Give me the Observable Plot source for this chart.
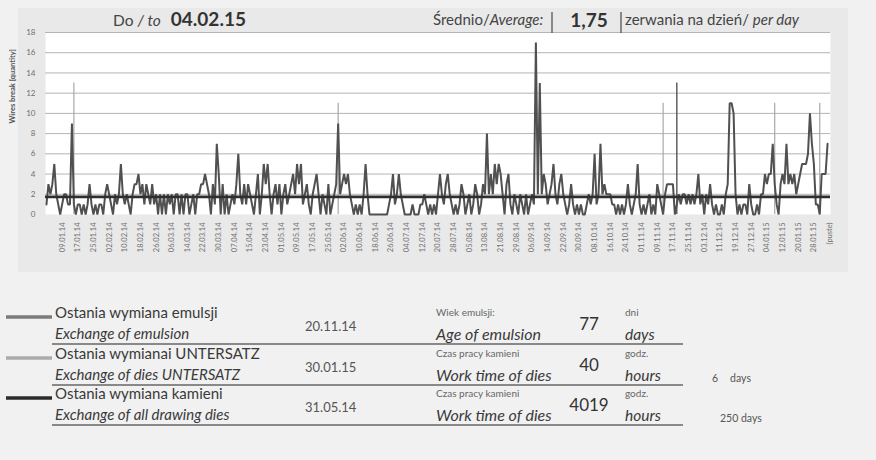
<!DOCTYPE html>
<html><head><meta charset="utf-8">
<script src="https://cdn.jsdelivr.net/npm/d3@7"></script>
<script src="https://cdn.jsdelivr.net/npm/@observablehq/plot@0.6"></script>
<style>
body{margin:0;background:#f1f1f1;font-family:Lato,"Open Sans",sans-serif;}
#wrap{position:relative;width:876px;height:460px;overflow:hidden;background:#f1f1f1}
#panel{position:absolute;left:18px;top:8px;width:830px;height:264px;background:#e9e9e9}
#chart{position:absolute;left:0;top:0}
#over{position:absolute;left:0;top:0}
</style></head><body>
<div id="wrap"><div id="panel"></div><div id="chart"></div><svg id="over" width="876" height="460"></svg></div>
<script>
// daily wire breaks, 01.01.14 .. 04.02.15 (category index 0..399), index 400 = "(puste)"
const breaks = [
1,3,2,3,5,2,1,0,1,2,2,1,1,9,1,0,1,1,0,1,
0,1,3,1,0,1,0,1,1,0,2,3,2,1,0,2,1,2,5,2,
1,2,1,0,2,3,3,4,2,3,1,3,2,1,3,1,2,0,2,0,
2,0,2,1,2,0,2,2,0,2,0,2,2,0,1,2,0,2,2,3,
3,4,3,2,0,3,1,7,4,0,3,0,2,0,1,2,1,3,6,2,
1,3,1,3,2,1,0,2,4,0,2,5,3,5,2,0,2,3,1,3,
0,2,3,1,2,3,4,2,5,3,5,1,2,3,1,0,2,3,4,2,
0,2,1,0,3,0,1,2,3,9,2,3,4,3,4,2,1,0,1,0,
1,0,2,5,2,0,0,0,0,0,0,0,0,0,0,1,2,4,1,2,
4,2,1,0,0,0,0,1,0,0,0,1,1,2,1,0,1,0,1,0,
2,4,2,1,3,4,2,1,0,1,0,1,3,2,0,1,2,0,1,3,
2,0,1,3,2,8,2,4,2,5,3,5,4,2,0,3,4,1,0,2,
1,0,2,1,0,2,0,1,2,1,17,2,13,2,4,3,1,2,3,5,
2,1,3,4,2,1,0,1,3,1,0,1,0,1,0,0,1,2,1,2,
6,1,2,7,2,3,2,2,2,1,1,0,1,0,1,0,1,3,1,0,
1,2,5,1,0,1,0,1,2,0,1,0,3,2,1,0,2,3,3,3,
3,0,1,2,1,2,2,1,2,1,2,1,2,4,1,2,0,2,1,3,
1,0,1,0,0,1,0,2,3,11,11,10,2,0,1,0,1,1,0,3,
1,0,0,1,0,2,2,4,3,4,4,7,3,1,0,3,4,3,7,3,
4,3,4,2,3,4,5,5,5,6,10,7,5,1,1,0,4,4,4,7
];
const average = 1.75;
// exchange markers (category index, height)
const lightExchangeIdx = [14, 149, 315, 372, 395];
const lightExchangeTop = [13, 11, 11, 11, 11];
const darkExchangeIdx = [322];
const darkExchangeTop = [13];
const yTicks = [0,2,4,6,8,10,12,14,16,18];
const tickLabels = ["09.01.14","17.01.14","25.01.14","02.02.14","10.02.14","18.02.14","26.02.14","06.03.14","14.03.14","22.03.14","30.03.14","07.04.14","15.04.14","23.04.14","01.05.14","09.05.14","17.05.14","25.05.14","02.06.14","10.06.14","18.06.14","26.06.14","04.07.14","12.07.14","20.07.14","28.07.14","05.08.14","13.08.14","21.08.14","29.08.14","06.09.14","14.09.14","22.09.14","30.09.14","08.10.14","16.10.14","24.10.14","01.11.14","09.11.14","17.11.14","25.11.14","03.12.14","11.12.14","19.12.14","27.12.14","04.01.15","12.01.15","20.01.15","28.01.15","(puste)"];

const data = breaks.map((v,i)=>({i, v}));
const tickPos = tickLabels.map((_,k)=>8+8*k);
const lightEv = lightExchangeIdx.map((i,k)=>({i, top: lightExchangeTop[k]}));
const darkEv = darkExchangeIdx.map((i,k)=>({i, top: darkExchangeTop[k]}));

const plot = Plot.plot({
  width: 876, height: 272,
  marginLeft: 45, marginRight: 46, marginTop: 32, marginBottom: 58,
  style: {background: "transparent", fontFamily: "Lato, sans-serif", color: "#6f6f6f"},
  x: {domain: [-0.5, 400.5], axis: null},
  y: {domain: [0, 18], axis: null},
  marks: [
    Plot.frame({fill: "white", stroke: null}),
    Plot.gridY(yTicks.slice(1), {stroke: "#b4b4b4", strokeOpacity: 1, strokeWidth: 1}),
    Plot.axisY({ticks: yTicks, tickSize: 0, tickPadding: 10, fontSize: 8, label: null}),
    Plot.axisX({ticks: tickPos, tickFormat: d => tickLabels[(d-8)/8], tickRotate: -90, tickSize: 0, tickPadding: 8, fontSize: 7.5, label: null}),
    Plot.ruleX(lightEv, {x: "i", y1: 0, y2: "top", stroke: "#a8a8a8", strokeWidth: 1.2}),
    Plot.ruleX(darkEv, {x: "i", y1: 0, y2: "top", stroke: "#555", strokeWidth: 1.4}),
    Plot.lineY(data, {x: "i", y: "v", stroke: "#505050", strokeWidth: 2, strokeLinejoin: "miter"}),
    Plot.ruleY([average], {stroke: "#2e2e2e", strokeWidth: 2.8}),
    Plot.text(["Wires break [quantity]"], {frameAnchor: "left", rotate: -90, dx: -33, fontSize: 7.5, fontWeight: "bold", fill: "#555"})
  ]
});
document.getElementById("chart").appendChild(plot);

// header & table overlay
const ns = "http://www.w3.org/2000/svg";
const over = document.getElementById("over");
function t(x, y, parts, opts={}) {
  const el = document.createElementNS(ns, "text");
  el.setAttribute("x", x); el.setAttribute("y", y);
  el.setAttribute("font-family", "Lato, sans-serif");
  el.setAttribute("font-size", opts.size || 13);
  el.setAttribute("fill", opts.fill || "#3a3a3a");
  if (opts.anchor) el.setAttribute("text-anchor", opts.anchor);
  if (opts.weight) el.setAttribute("font-weight", opts.weight);
  if (opts.italic) el.setAttribute("font-style", "italic");
  (Array.isArray(parts) ? parts : [[parts, {}]]).forEach(([s, o]) => {
    const sp = document.createElementNS(ns, "tspan");
    sp.textContent = s;
    if (o.italic) sp.setAttribute("font-style", "italic");
    if (o.weight) sp.setAttribute("font-weight", o.weight);
    if (o.size) sp.setAttribute("font-size", o.size);
    if (o.dx) sp.setAttribute("dx", o.dx);
    sp.setAttribute("fill", o.fill || opts.fill || "#3a3a3a");
    el.appendChild(sp);
  });
  over.appendChild(el);
}
function l(x1, y1, x2, y2, stroke, w) {
  const el = document.createElementNS(ns, "line");
  el.setAttribute("x1", x1); el.setAttribute("y1", y1);
  el.setAttribute("x2", x2); el.setAttribute("y2", y2);
  el.setAttribute("stroke", stroke); el.setAttribute("stroke-width", w);
  over.appendChild(el);
}
t(113, 26, [["Do ", {}], ["/ to", {italic: true}], ["04.02.15", {weight: "bold", size: 19, dx: 10, fill: "#333"}]], {size: 15.5, fill: "#444"});
t(433, 25, [["Średnio/", {}], ["Average:", {italic: true}]], {size: 15, fill: "#444"});
l(552, 12, 552, 33, "#555", 1.3);
t(589, 27, "1,75", {size: 19, weight: "bold", anchor: "middle", fill: "#333"});
l(621, 12, 621, 33, "#555", 1.3);
t(625, 25, [["zerwania na dzień/ ", {}], ["per day", {italic: true}]], {size: 15, fill: "#444"});

// table
const rows = [
  {y: 0, sw: "#7b7b7b", pl: "Ostania wymiana emulsji", en: "Exchange of emulsion", date: "20.11.14",
   small: "Wiek emulsji:", big: "Age of emulsion", num: "77", u1: "dni", u2: "days", extra: null},
  {y: 41, sw: "#ababab", pl: "Ostania wymianai UNTERSATZ", en: "Exchange of dies UNTERSATZ", date: "30.01.15",
   small: "Czas pracy kamieni", big: "Work time of dies", num: "40", u1: "godz.", u2: "hours", extra: [["6", {}], ["days", {dx: 12}]], ex: 712},
  {y: 81, sw: "#2b2b2b", pl: "Ostania wymiana kamieni", en: "Exchange of all drawing dies", date: "31.05.14",
   small: "Czas pracy kamieni", big: "Work time of dies", num: "4019", u1: "godz.", u2: "hours", extra: [["250 days", {}]], ex: 720}
];
rows.forEach(r => {
  const b = 318 + r.y;
  l(6, b - 1, 52, b - 1, r.sw, 3.4);
  t(55, b, r.pl, {size: 15, fill: "#3a3a3a"});
  t(55, b + 21, r.en, {size: 15, italic: true, fill: "#3a3a3a"});
  l(52, b + 26, 683, b + 26, "#666", 1.4);
  t(305, b + 13, r.date, {size: 13, fill: "#555"});
  t(436, b - 2, r.small, {size: 10, fill: "#666"});
  t(436, b + 22, r.big, {size: 16, italic: true, fill: "#3a3a3a"});
  t(589, b + 12, r.num, {size: 17, anchor: "middle", fill: "#333"});
  t(625, b - 2, r.u1, {size: 10, fill: "#666"});
  t(625, b + 22, r.u2, {size: 15.5, italic: true, fill: "#3a3a3a"});
  if (r.extra) t(r.ex, b + 23, r.extra, {size: 10.5, fill: "#555"});
});
</script>
</body></html>
